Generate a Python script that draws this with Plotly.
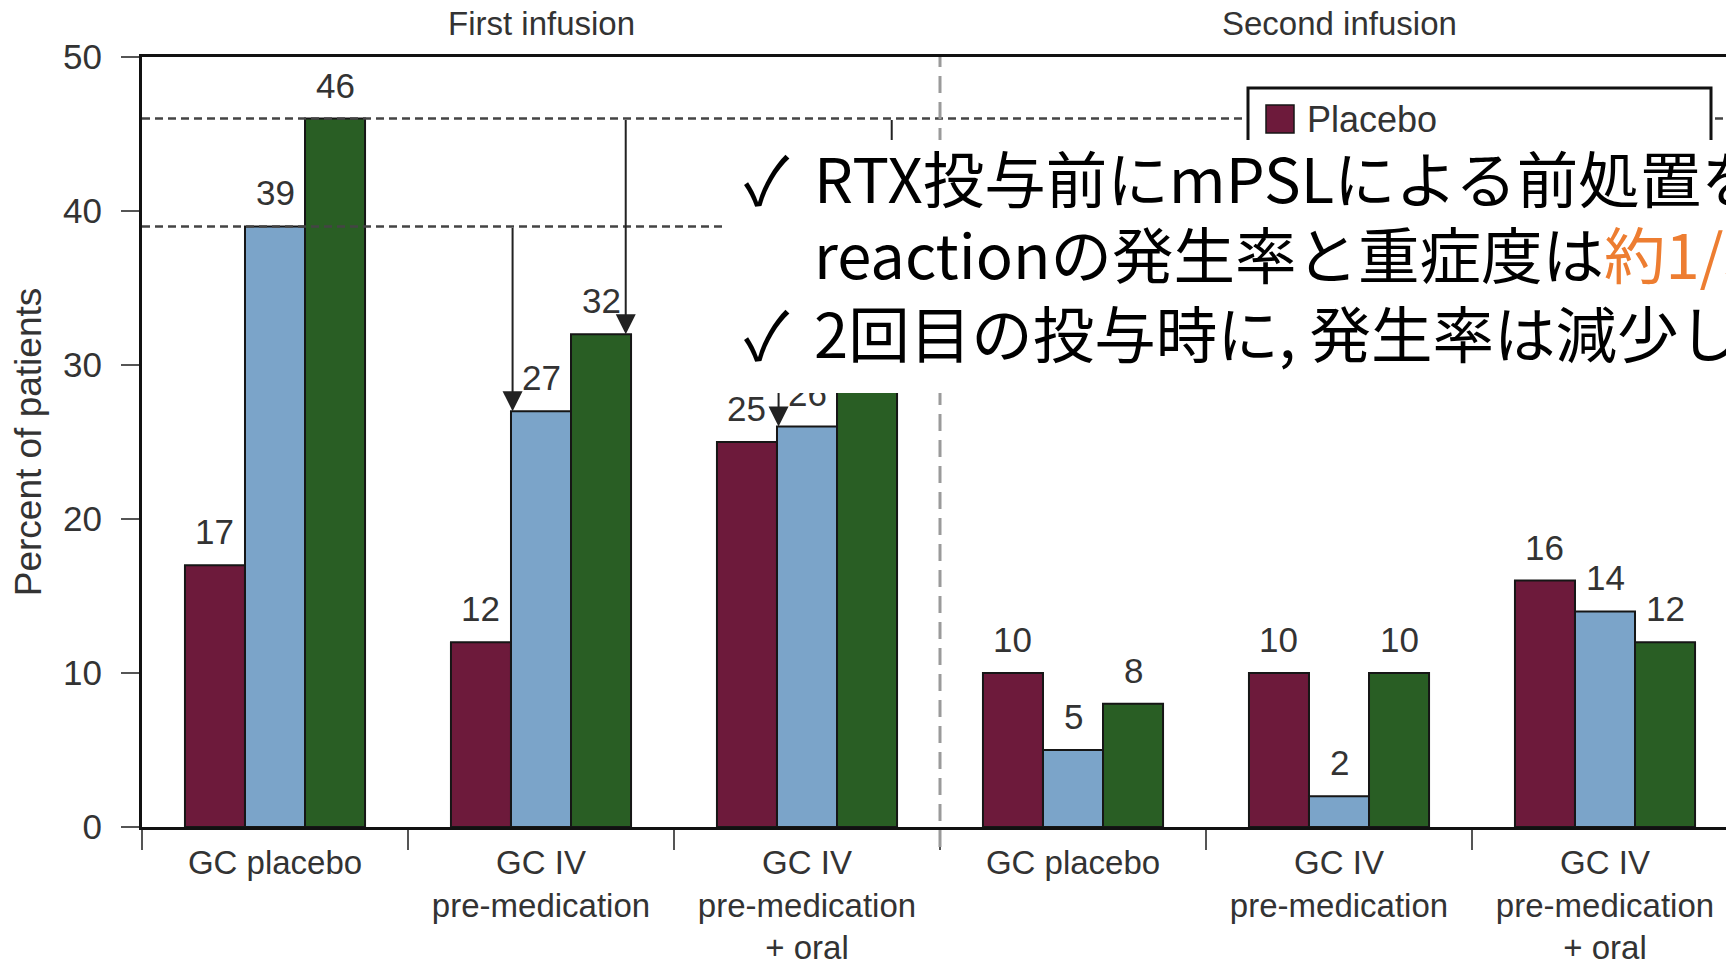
import plotly.graph_objects as go

# ---------------- data ----------------
categories = ["GC placebo", "GC IV<br>pre-medication", "GC IV<br>pre-medication<br>+ oral",
              "GC placebo", "GC IV<br>pre-medication", "GC IV<br>pre-medication<br>+ oral"]
infusions = ["First infusion", "Second infusion"]
series_names = ["Placebo", "RTX 2 × 500 mg", "RTX 2 × 1000 mg"]
placebo = [17, 12, 25, 10, 10, 16]
rtx500 = [39, 27, 26, 5, 2, 14]
rtx1000 = [46, 32, 29, 8, 10, 12]
y_ticks = [0, 10, 20, 30, 40, 50]

colors = ["#6D1A3B", "#7BA4C9", "#295E24"]
series = [placebo, rtx500, rtx1000]

# page has an 8px body margin -> figure is 8px smaller and positions are page px - 8
OFF = 8
W, H = 1734 - OFF, 964 - OFF
ML, MT = 142 - OFF, 57 - OFF
MB = H - (827 - OFF)
MR = 0
PW, PH = W - ML - MR, H - MT - MB
CAT_PX = 266.0
BARGAP = 0.323
n = len(categories)
xpos = list(range(n))
x_range = [-0.5, -0.5 + PW / CAT_PX]


def px_x(page_px):
    return (page_px - OFF - ML) / PW


def px_y(page_py):
    return (H - MB - (page_py - OFF)) / PH


fig = go.Figure()
for name, vals, col in zip(series_names, series, colors):
    fig.add_trace(go.Bar(
        x=xpos, y=vals, name=name, marker=dict(color=col, line=dict(color="#161616", width=2)),
        showlegend=False,
    ))

bw = (1 - BARGAP) / len(series)
FONT = "Liberation Sans, Arial, sans-serif"
tick_font = dict(family=FONT, size=35, color="#333333")

annotations = []
# value labels
for k, vals in enumerate(series):
    for i, v in enumerate(vals):
        annotations.append(dict(
            x=i + (k - 1) * bw, y=v, xref="x", yref="y", text=str(v), showarrow=False,
            yanchor="bottom", yshift=12, font=tick_font,
        ))

# arrows (first infusion): from GC placebo level down to bar top
for i in [1, 2]:
    xb = i - bw / 2 + 0.006
    xg = i + bw + bw / 2 - 0.02
    annotations.append(dict(
        x=xb, y=rtx500[i], ax=xb, ay=rtx500[0],
        xref="x", yref="y", axref="x", ayref="y", text="", showarrow=True,
        arrowhead=2, arrowsize=2.0, arrowwidth=2, arrowcolor="#222222", standoff=0,
    ))
    annotations.append(dict(
        x=xg, y=rtx1000[i], ax=xg, ay=rtx1000[0],
        xref="x", yref="y", axref="x", ayref="y", text="", showarrow=True,
        arrowhead=2, arrowsize=2.0, arrowwidth=2, arrowcolor="#222222", standoff=0,
    ))

# infusion headers
for j, lab in enumerate(infusions):
    annotations.append(dict(
        x=j * 3 + 1, y=px_y(24), xref="x", yref="paper", text=lab, showarrow=False,
        yanchor="middle", font=dict(family=FONT, size=33, color="#333333"),
    ))

# legend text (only visible entry)
annotations.append(dict(
    x=px_x(1305), y=px_y(120), xref="paper", yref="paper", text=series_names[0],
    showarrow=False, xanchor="left", yanchor="middle",
    font=dict(family=FONT, size=36, color="#333333"),
))

# white overlay box (covers part of chart)
BOX_L, BOX_T, BOX_B = 724, 140, 393
annotations.append(dict(
    x=px_x(BOX_L), y=px_y(BOX_T), xref="paper", yref="paper", text=" ", showarrow=False,
    xanchor="left", yanchor="top", width=1734 - BOX_L + 2, height=BOX_B - BOX_T,
    bgcolor="white", borderpad=0, borderwidth=0,
))

jp_font = dict(family="Noto Sans CJK JP", size=61.5, color="black")
check_font = dict(family="Noto Sans CJK JP", size=66, color="black")
check_x = px_x(742)
text_x = px_x(812)
lines = [
    (176, "✓", "RTX投与前にmPSLによる前処置を行うと"),
    (253, None, "reactionの発生率と重症度は<span style='color:#ED7D31'>約1/3</span>に"),
    (331, "✓", "2回目の投与時に, 発生率は減少した"),
]
for yc, mark, txt in lines:
    if mark:
        annotations.append(dict(
            x=check_x, y=px_y(yc), xref="paper", yref="paper", text=mark, showarrow=False,
            xanchor="left", yanchor="middle", font=check_font,
        ))
    annotations.append(dict(
        x=text_x, y=px_y(yc), xref="paper", yref="paper", text=txt, showarrow=False,
        xanchor="left", yanchor="middle", font=jp_font,
    ))

shapes = []
# dashed reference lines at GC-placebo levels
for ref in [rtx500[0], rtx1000[0]]:
    shapes.append(dict(type="line", xref="paper", yref="y", x0=0, x1=1, y0=ref, y1=ref,
                       line=dict(color="#444444", width=2.5, dash="8px,5px"), layer="above"))
# separator between infusions
shapes.append(dict(type="line", xref="x", yref="paper", x0=2.5, x1=2.5, y0=px_y(847), y1=1,
                   line=dict(color="#9a9a9a", width=3, dash="17px,9px"), layer="above"))
# legend frame (visible part above the overlay box) + swatch
lx0, lx1, ly0, ly1 = px_x(1248), px_x(1711), px_y(BOX_T + 1), px_y(88)
shapes.append(dict(type="path", xref="paper", yref="paper",
                   path=f"M {lx0},{ly0} L {lx0},{ly1} L {lx1},{ly1} L {lx1},{ly0}",
                   fillcolor="white", line=dict(color="#111111", width=3), layer="above"))
shapes.append(dict(type="rect", xref="paper", yref="paper", x0=px_x(1266), x1=px_x(1294),
                   y0=px_y(133), y1=px_y(105), fillcolor=colors[0],
                   line=dict(color="#161616", width=1.5), layer="above"))

fig.update_layout(
    width=W, height=H, margin=dict(l=ML, r=MR, t=MT, b=MB, autoexpand=False),
    paper_bgcolor="white", plot_bgcolor="white",
    barmode="group", bargap=BARGAP, bargroupgap=0,
    annotations=annotations, shapes=shapes,
    font=dict(family=FONT, color="#333333"),
    xaxis=dict(
        range=x_range, tickvals=xpos, ticktext=categories, ticks="",
        showline=True, linecolor="#111111", linewidth=3, mirror=True,
        showgrid=False, zeroline=False, ticklabelstandoff=4,
        tickfont=dict(family=FONT, size=33, color="#333333"),
        minor=dict(tickvals=[x - 0.5 for x in range(n + 1)], ticks="outside", ticklen=20,
                   tickwidth=2, tickcolor="#555555", showgrid=False),
    ),
    yaxis=dict(
        range=[0, 50], tickvals=y_ticks, ticks="outside", ticklen=18, tickwidth=2,
        tickcolor="#555555", showline=True, linecolor="#111111", linewidth=3,
        showgrid=False, zeroline=False, tickfont=tick_font, ticklabelstandoff=12,
        title=dict(text="Percent of patients", standoff=13,
                   font=dict(family=FONT, size=37, color="#333333")),
    ),
)

fig.write_html("out.html")
